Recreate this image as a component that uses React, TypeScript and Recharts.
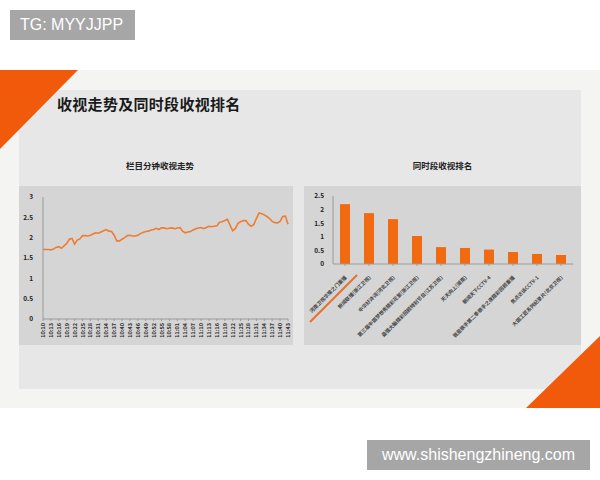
import { LineChart, Line, BarChart, Bar, XAxis, YAxis } from 'recharts'

// minute-by-minute program rating, 10:10 - 11:43
const minutes = [
  '10:10', '10:11', '10:12', '10:13', '10:14', '10:15', '10:16', '10:17', '10:18', '10:19',
  '10:20', '10:21', '10:22', '10:23', '10:24', '10:25', '10:26', '10:27', '10:28', '10:29',
  '10:30', '10:31', '10:32', '10:33', '10:34', '10:35', '10:36', '10:37', '10:38', '10:39',
  '10:40', '10:41', '10:42', '10:43', '10:44', '10:45', '10:46', '10:47', '10:48', '10:49',
  '10:50', '10:51', '10:52', '10:53', '10:54', '10:55', '10:56', '10:57', '10:58', '10:59',
  '11:00', '11:01', '11:02', '11:03', '11:04', '11:05', '11:06', '11:07', '11:08', '11:09',
  '11:10', '11:11', '11:12', '11:13', '11:14', '11:15', '11:16', '11:17', '11:18', '11:19',
  '11:20', '11:21', '11:22', '11:23', '11:24', '11:25', '11:26', '11:27', '11:28', '11:29',
  '11:30', '11:31', '11:32', '11:33', '11:34', '11:35', '11:36', '11:37', '11:38', '11:39',
  '11:40', '11:41', '11:42', '11:43',
]

const ratings = [
  1.71, 1.71, 1.71, 1.70, 1.72, 1.76, 1.78, 1.74, 1.80, 1.86,
  1.96, 1.98, 1.84, 1.94, 1.97, 2.05, 2.05, 2.04, 2.06, 2.09,
  2.12, 2.11, 2.14, 2.17, 2.20, 2.16, 2.15, 2.06, 1.92, 1.92,
  1.96, 2.00, 2.05, 2.06, 2.04, 2.04, 2.06, 2.10, 2.13, 2.15,
  2.16, 2.19, 2.20, 2.23, 2.20, 2.24, 2.24, 2.22, 2.23, 2.24,
  2.22, 2.24, 2.25, 2.16, 2.12, 2.14, 2.15, 2.19, 2.22, 2.24,
  2.25, 2.22, 2.25, 2.28, 2.27, 2.28, 2.29, 2.38, 2.39, 2.42,
  2.45, 2.31, 2.17, 2.22, 2.35, 2.39, 2.42, 2.42, 2.33, 2.28,
  2.32, 2.47, 2.61, 2.59, 2.56, 2.52, 2.47, 2.40, 2.37, 2.36,
  2.40, 2.52, 2.53, 2.33,
]

// same time slot ranking
const programs = [
  '河南卫视华豫之门重播',
  '新闻联播(浙江卫视)',
  '中华好诗词(河北卫视)',
  '第三届中国梦想秀精彩花絮(浙江卫视)',
  '最强大脑精彩回顾特别节目(江苏卫视)',
  '天天向上(湖南)',
  '朝闻天下CCTV-4',
  '我是歌手第二季歌手之夜精彩回顾重播',
  '焦点访谈CCTV-1',
  '大国工匠系列纪录片(北京卫视)',
]
const slotRatings = [2.2, 1.87, 1.65, 1.03, 0.62, 0.59, 0.53, 0.44, 0.37, 0.33]

const lineTicks = [0, 0.5, 1, 1.5, 2, 2.5, 3]
const barTicks = [0, 0.5, 1, 1.5, 2, 2.5]

const ORANGE_LINE = '#ED7D31'
const ORANGE_BAR = '#F26A10'
const FONT = '"Noto Sans CJK SC", "DejaVu Sans", sans-serif'

const lineData = minutes.map((m, i) => ({ time: m, value: ratings[i] }))
const barData = programs.map((p, i) => ({ name: p, value: slotRatings[i] }))

const tickStyle = { fontSize: 6.5, fill: '#222', fontWeight: 700, fontFamily: FONT }

const TimeTick = ({ x, y, payload }: any) => (
  <text
    x={x + 2}
    y={y}
    transform={`rotate(-90 ${x + 2} ${y})`}
    textAnchor="end"
    fontSize={5.5}
    fontWeight={700}
    fill="#333"
    fontFamily={FONT}
  >
    {payload.value}
  </text>
)

const ProgramTick = ({ x, y, payload }: any) => (
  <text
    x={x + 2}
    y={y + 10}
    transform={`rotate(-45 ${x + 2} ${y + 10})`}
    textAnchor="end"
    fontSize={5}
    fontWeight={700}
    fill="#444"
    fontFamily={FONT}
  >
    {payload.value}
  </text>
)

const abs = (style: any) => ({ position: 'absolute' as const, ...style })

export default function App() {
  return (
    <div style={abs({ left: 0, top: 0, width: 600, height: 480, background: '#fff', overflow: 'hidden', fontFamily: FONT })}>
      {/* slide */}
      <div style={abs({ left: 0, top: 70, width: 600, height: 338, background: '#f4f4f2' })} />
      <div style={abs({ left: 19, top: 90, width: 562, height: 299, background: '#e7e7e7' })} />
      <svg width={600} height={480} style={abs({ left: 0, top: 0 })}>
        <polygon points="0,70 78,70 0,149" fill="#F05A0A" />
        <polygon points="600,336 600,408 526,408" fill="#F05A0A" />
      </svg>

      <div style={abs({ left: 57, top: 93, fontSize: 15, fontWeight: 700, color: '#1a1a1a', letterSpacing: 0.3 })}>
        收视走势及同时段收视排名
      </div>

      {/* left chart */}
      <div style={abs({ left: 23, top: 159, width: 274, textAlign: 'center', fontSize: 8.5, fontWeight: 700, color: '#222' })}>
        栏目分钟收视走势
      </div>
      <div style={abs({ left: 19, top: 186, width: 274, height: 159, background: '#d5d5d5' })}>
        <LineChart width={274} height={159} data={lineData} margin={{ top: 11, right: 5, left: 0, bottom: 0 }}>
          <XAxis
            dataKey="time"
            interval={2}
            height={26}
            tick={<TimeTick />}
            tickSize={2}
            tickMargin={2}
            stroke="#9a9a9a"
          />
          <YAxis
            width={24}
            domain={[0, 3]}
            ticks={lineTicks}
            tick={tickStyle}
            tickSize={0}
            tickMargin={10}
            stroke="#9a9a9a"
          />
          <Line type="linear" dataKey="value" stroke={ORANGE_LINE} strokeWidth={1.6} dot={false} isAnimationActive={false} />
        </LineChart>
      </div>

      {/* right chart */}
      <div style={abs({ left: 304, top: 159, width: 277, textAlign: 'center', fontSize: 8.5, fontWeight: 700, color: '#222' })}>
        同时段收视排名
      </div>
      <div style={abs({ left: 304, top: 186, width: 277, height: 159, background: '#d5d5d5' })}>
        <BarChart width={277} height={159} data={barData} margin={{ top: 10, right: 8, left: 0, bottom: 0 }}>
          <XAxis
            dataKey="name"
            interval={0}
            height={81}
            tick={<ProgramTick />}
            tickSize={2}
            tickMargin={2}
            stroke="#9a9a9a"
          />
          <YAxis
            width={29}
            domain={[0, 2.5]}
            ticks={barTicks}
            tick={tickStyle}
            tickSize={0}
            tickMargin={9}
            stroke="#9a9a9a"
          />
          <Bar dataKey="value" fill={ORANGE_BAR} barSize={10} isAnimationActive={false} />
        </BarChart>
      </div>
      <svg width={600} height={480} style={abs({ left: 0, top: 0, pointerEvents: 'none' })}>
        <line x1={310} y1={322} x2={357} y2={275} stroke="#E8702A" strokeWidth={2} />
      </svg>

      {/* watermarks */}
      <div style={abs({ left: 10, top: 10, width: 125, height: 30, background: '#a6a6a6', color: '#fff', fontSize: 16, lineHeight: '30px', paddingLeft: 10, boxSizing: 'border-box', fontFamily: '"Liberation Sans", Arial, sans-serif' })}>
        TG: MYYJJPP
      </div>
      <div style={abs({ left: 367, top: 440, width: 223, height: 30, background: '#a6a6a6', color: '#fff', fontSize: 16, lineHeight: '30px', textAlign: 'center', fontFamily: '"Liberation Sans", Arial, sans-serif' })}>
        www.shishengzhineng.com
      </div>
    </div>
  )
}
